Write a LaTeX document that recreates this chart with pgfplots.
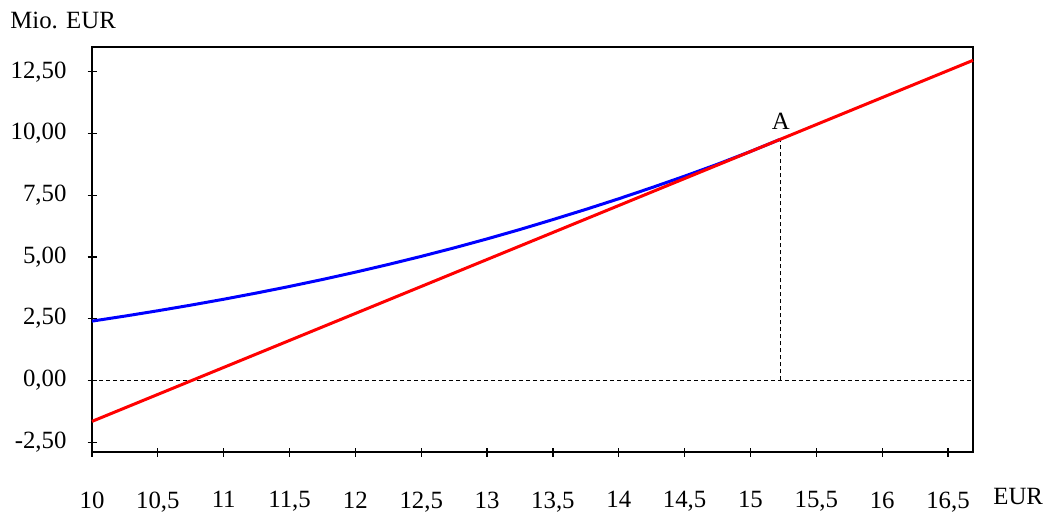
\documentclass[border=0pt]{standalone}
\usepackage{fontspec}
\setmainfont{Liberation Serif}
\usepackage{pgfplots}
\pgfplotsset{compat=1.18}
\begin{document}
\begin{tikzpicture}[font=\fontsize{12.4}{15}\selectfont]
\useasboundingbox (-46pt,-29.5pt) rectangle (477.5pt,226pt);
\begin{axis}[
  scale only axis,
  width=440.5pt, height=202.5pt,
  at={(0,0)}, anchor=south west,
  xmin=10, xmax=16.69, ymin=-2.9, ymax=13.5,
  axis line style={line width=0.75pt},
  clip=false,
  tick align=center,
  major tick length=4.5pt,
  tick style={black, line width=0.6pt},
  xtick={10,10.5,11,11.5,12,12.5,13,13.5,14,14.5,15,15.5,16,16.5},
  xticklabels={10,{10,5},11,{11,5},12,{12,5},13,{13,5},14,{14,5},15,{15,5},16,{16,5}},
  ytick={-2.5,0,2.5,5,7.5,10,12.5},
  yticklabels={{-2,50},{0,00},{2,50},{5,00},{7,50},{10,00},{12,50}},
  xtick pos=bottom, ytick pos=left,
  xticklabel style={yshift=-14pt},
  yticklabel style={xshift=-7pt},
]
\addplot[black, line width=0.5pt, dash pattern=on 2pt off 1.5pt] coordinates {(10,0) (16.69,0)};
\addplot[black, line width=0.5pt, dash pattern=on 2pt off 1.5pt] coordinates {(15.23,0) (15.23,9.77)};
\addplot[blue, line width=1.5pt] coordinates {
(10.00,2.400) (10.25,2.604) (10.50,2.820) (10.75,3.047) (11.00,3.286)
(11.25,3.539) (11.50,3.805) (11.75,4.086) (12.00,4.382) (12.25,4.694)
(12.50,5.022) (12.75,5.367) (13.00,5.730) (13.25,6.111) (13.50,6.512)
(13.75,6.925) (14.00,7.355) (14.25,7.805) (14.50,8.270) (14.75,8.755)
(15.00,9.270) (15.23,9.770)};
\addplot[red, line width=1.5pt] coordinates {(10,-1.66) (16.69,12.96)};
\node[anchor=south, inner sep=1pt] at (axis cs:15.23,10.05) {A};
\node[anchor=west, inner sep=0pt] at ([xshift=10pt,yshift=-22pt]rel axis cs:1,0) {EUR};
\node[anchor=west, inner sep=0pt] at ([xshift=-41pt,yshift=216pt]rel axis cs:0,0) {Mio. EUR};
\end{axis}
\end{tikzpicture}
\end{document}
